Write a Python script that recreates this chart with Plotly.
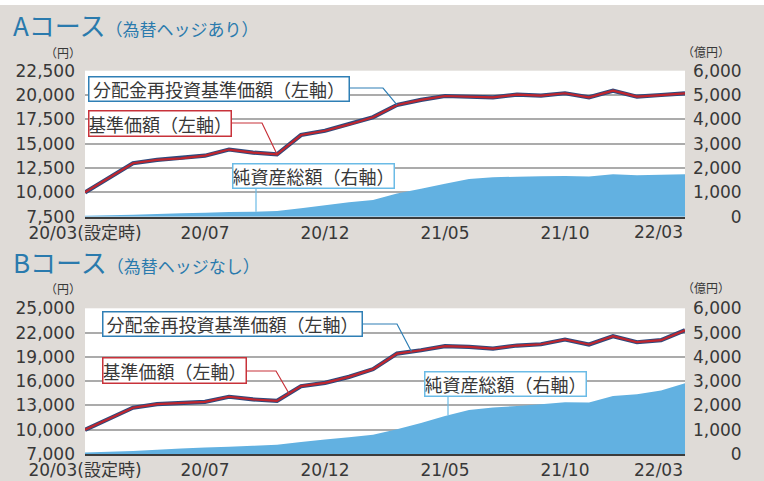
import numpy as np
import plotly.graph_objects as go

W, H = 764, 481

# ---------------- data ----------------
periods = ["20/03設定", "20/03", "20/04", "20/05", "20/06", "20/07", "20/08", "20/09",
           "20/10", "20/11", "20/12", "21/01", "21/02", "21/03", "21/04", "21/05",
           "21/06", "21/07", "21/08", "21/09", "21/10", "21/11", "21/12", "22/01",
           "22/02", "22/03"]
x_idx = list(range(len(periods)))

x_tick_pos = [0, 5, 10, 15, 20]
x_tick_labels = ["20/03(設定時)", "20/07", "20/12", "21/05", "21/10"]
x_last_label = "22/03"

# A course (hedged)
nav_a = [10000, 11450, 12990, 13330, 13500, 13770, 14400, 14080, 13910, 15890, 16330,
         16980, 17720, 18980, 19500, 19900, 19830, 19760, 20040, 19930, 20180, 19760,
         20450, 19830, 20000, 20180]
reinv_a = [10000, 11450, 12990, 13330, 13500, 13770, 14400, 14080, 13910, 15890, 16330,
           16980, 17720, 18980, 19500, 19900, 19830, 19760, 20040, 19930, 20180, 19760,
           20450, 19830, 20000, 20180]
aum_a = [40, 60, 85, 110, 140, 165, 190, 205, 230, 350, 470, 590, 690, 950, 1150, 1350,
         1550, 1620, 1645, 1660, 1675, 1655, 1740, 1700, 1725, 1740]
left_ticks_a = [7500, 10000, 12500, 15000, 17500, 20000, 22500]

# B course (unhedged)
nav_b = [10000, 11400, 12720, 13160, 13330, 13450, 14070, 13740, 13570, 15380, 15790,
         16530, 17480, 19410, 19820, 20320, 20230, 20030, 20400, 20560, 21140, 20530,
         21550, 20810, 21060, 22290]
reinv_b = [10000, 11400, 12720, 13160, 13330, 13450, 14070, 13740, 13570, 15380, 15790,
           16530, 17480, 19410, 19820, 20320, 20230, 20030, 20400, 20560, 21140, 20530,
           21550, 20810, 21060, 22290]
aum_b = [65, 90, 120, 170, 225, 265, 300, 335, 380, 490, 600, 690, 790, 1017, 1280, 1560,
         1815, 1920, 1975, 2045, 2130, 2120, 2390, 2460, 2610, 2910]
left_ticks_b = [7000, 10000, 13000, 16000, 19000, 22000, 25000]

right_ticks = [0, 1000, 2000, 3000, 4000, 5000, 6000]
right_tick_text = ["\u2007\u2008\u2007\u20070", "1,000", "2,000", "3,000", "4,000", "5,000", "6,000"]

# ---------------- styling ----------------
BG = "#dfdbd7"
GRID = "#ababab"
AXIS = "#3c3c3c"
TXT = "#383838"
TITLE = "#2a7aad"
NAVY = "#2c4a7e"
RED = "#c0262e"
AREA = "#62b1e1"
BOX_BLUE = "#2f7fb5"
BOX_RED = "#c8323a"
BOX_LIGHT = "#6bbbe6"
NUMFONT = "DejaVu Sans, Noto Sans CJK JP"
JPFONT = "Noto Sans CJK JP"

PX_L, PX_R = 85, 685
A_TOP, A_BOT = 70.7, 216.7
B_TOP, B_BOT = 308.3, 454.0


def pxx(p):
    return p / W


def pxy(p):
    return 1 - p / H


xdom = [pxx(PX_L), pxx(PX_R)]
xmax = len(periods) - 1

fig = go.Figure()

# area (base axes) then lines (overlay axes -> on top)
fig.add_trace(go.Scatter(x=x_idx, y=aum_a, mode="none", fill="tozeroy", fillcolor=AREA,
                         xaxis="x", yaxis="y", hoverinfo="skip"))
fig.add_trace(go.Scatter(x=x_idx, y=reinv_a, mode="lines", line=dict(color=NAVY, width=4.2),
                         xaxis="x", yaxis="y2"))
fig.add_trace(go.Scatter(x=x_idx, y=nav_a, mode="lines", line=dict(color=RED, width=2.2),
                         xaxis="x", yaxis="y2"))

fig.add_trace(go.Scatter(x=x_idx, y=aum_b, mode="none", fill="tozeroy", fillcolor=AREA,
                         xaxis="x2", yaxis="y3", hoverinfo="skip"))
fig.add_trace(go.Scatter(x=x_idx, y=reinv_b, mode="lines", line=dict(color=NAVY, width=4.2),
                         xaxis="x2", yaxis="y4"))
fig.add_trace(go.Scatter(x=x_idx, y=nav_b, mode="lines", line=dict(color=RED, width=2.2),
                         xaxis="x2", yaxis="y4"))

xaxis_common = dict(domain=xdom, range=[0, xmax], tickmode="array", tickvals=x_tick_pos,
                    ticktext=x_tick_labels, showgrid=False, zeroline=False, showline=True,
                    linecolor=AXIS, linewidth=2, ticks="", ticklabelstandoff=0,
                    automargin=False,
                    tickfont=dict(family=NUMFONT, size=17, color=TXT), fixedrange=True)
right_common = dict(range=[0, 6000], side="right", tickmode="array", tickvals=right_ticks,
                    ticktext=right_tick_text, showgrid=True, gridcolor=GRID, gridwidth=1.5,
                    zeroline=False, showline=False, ticks="", ticklabelstandoff=7,
                    automargin=False,
                    tickfont=dict(family=NUMFONT, size=17, color=TXT))
left_common = dict(side="left", tickmode="array", tickformat=",d", showgrid=False,
                   zeroline=False, showline=False, ticks="", ticklabelstandoff=9,
                   automargin=False,
                   tickfont=dict(family=NUMFONT, size=17, color=TXT))

fig.update_layout(
    width=W, height=H, margin=dict(l=0, r=0, t=0, b=0, pad=0, autoexpand=False),
    paper_bgcolor=BG, plot_bgcolor="white", showlegend=False,
    font=dict(family=JPFONT, color=TXT),
    xaxis=dict(anchor="y", **xaxis_common),
    yaxis=dict(domain=[pxy(A_BOT), pxy(A_TOP)], anchor="x", **right_common),
    yaxis2=dict(overlaying="y", anchor="x", range=[left_ticks_a[0], left_ticks_a[-1]],
                tickvals=left_ticks_a, **left_common),
    xaxis2=dict(anchor="y3", **xaxis_common),
    yaxis3=dict(domain=[pxy(B_BOT), pxy(B_TOP)], anchor="x2", **right_common),
    yaxis4=dict(overlaying="y3", anchor="x2", range=[left_ticks_b[0], left_ticks_b[-1]],
                tickvals=left_ticks_b, **left_common),
)

annotations = []

# last x label right aligned at the plot edge
for xr, ybot in (("x", A_BOT), ("x2", B_BOT)):
    annotations.append(dict(x=xmax, xref=xr, y=pxy(ybot + 15.5), yref="paper",
                            text=x_last_label, showarrow=False, xanchor="right",
                            yanchor="middle", font=dict(family=NUMFONT, size=17, color=TXT)))

# titles
annotations.append(dict(x=pxx(11), y=pxy(24), xref="paper", yref="paper", xanchor="left",
                        yanchor="middle", showarrow=False,
                        text="Aコース<span style='font-size:17px'>（為替ヘッジあり）</span>",
                        font=dict(family=JPFONT, size=26, color=TITLE)))
annotations.append(dict(x=pxx(11), y=pxy(261), xref="paper", yref="paper", xanchor="left",
                        yanchor="middle", showarrow=False,
                        text="Bコース<span style='font-size:17px'>（為替ヘッジなし）</span>",
                        font=dict(family=JPFONT, size=26, color=TITLE)))

# unit labels
for yc in (52, 288):
    annotations.append(dict(x=pxx(63), y=pxy(yc), xref="paper", yref="paper", text="（円）",
                            showarrow=False, xanchor="center", yanchor="middle",
                            font=dict(family=JPFONT, size=12, color=TXT)))
    annotations.append(dict(x=pxx(706), y=pxy(yc - 1), xref="paper", yref="paper",
                            text="（億円）", showarrow=False, xanchor="center",
                            yanchor="middle", font=dict(family=JPFONT, size=12, color=TXT)))


def box(text, left, top, right, bottom, color):
    bw = 1.5
    return dict(x=pxx(left), y=pxy((top + bottom) / 2), xref="paper", yref="paper",
                xanchor="left", yanchor="middle", showarrow=False, text=text,
                width=right - left - 2 * bw, height=bottom - top - 2 * bw, align="center",
                valign="middle", bgcolor="white", bordercolor=color, borderwidth=bw,
                borderpad=0, font=dict(family=JPFONT, size=18, color=TXT))


LBL_REINV = "分配金再投資基準価額（左軸）"
LBL_NAV = "基準価額（左軸）"
LBL_AUM = "純資産総額（右軸）"

annotations += [
    box(LBL_REINV, 88, 76, 350, 102, BOX_BLUE),
    box(LBL_NAV, 88, 110, 232, 137, BOX_RED),
    box(LBL_AUM, 232, 163, 395, 189, BOX_LIGHT),
    box(LBL_REINV, 102, 311, 363, 337, BOX_BLUE),
    box(LBL_NAV, 102, 357, 247, 384, BOX_RED),
    box(LBL_AUM, 424, 371, 587, 397, BOX_LIGHT),
]
fig.update_layout(annotations=annotations)


# leader lines (data coordinates)
def dx(px):
    return (px - PX_L) / (PX_R - PX_L) * xmax


def dy(py, top, bot, lo, hi):
    return lo + (bot - py) / (bot - top) * (hi - lo)


def path(pts):
    return "M " + " L ".join(f"{a},{b}" for a, b in pts)


shapes = [dict(type="rect", xref="paper", yref="paper", x0=0, x1=1, y0=pxy(5), y1=1,
               fillcolor="white", line=dict(width=0), layer="above")]

la = (A_TOP, A_BOT, left_ticks_a[0], left_ticks_a[-1])
lb = (B_TOP, B_BOT, left_ticks_b[0], left_ticks_b[-1])
ra = (A_TOP, A_BOT, 0, 6000)
rb = (B_TOP, B_BOT, 0, 6000)

# A: reinvested
shapes.append(dict(type="path", xref="x", yref="y2", line=dict(color=BOX_BLUE, width=1.2),
                   path=path([(dx(350), dy(88, *la)), (dx(383), dy(88, *la)),
                              (13, reinv_a[13])])))
# A: nav
shapes.append(dict(type="path", xref="x", yref="y2", line=dict(color=BOX_RED, width=1.2),
                   path=path([(dx(232), dy(123, *la)), (dx(262), dy(123, *la)),
                              (8, nav_a[8])])))
# A: aum
xa3 = dx(256)
shapes.append(dict(type="path", xref="x", yref="y", line=dict(color=BOX_LIGHT, width=1.2),
                   path=path([(xa3, dy(189, *ra)), (xa3, float(np.interp(xa3, x_idx, aum_a)))])))
# B: reinvested
xb1 = 13.6
shapes.append(dict(type="path", xref="x2", yref="y4", line=dict(color=BOX_BLUE, width=1.2),
                   path=path([(dx(363), dy(324, *lb)), (dx(397), dy(324, *lb)),
                              (xb1, float(np.interp(xb1, x_idx, reinv_b)))])))
# B: nav
xb2 = 8.5
shapes.append(dict(type="path", xref="x2", yref="y4", line=dict(color=BOX_RED, width=1.2),
                   path=path([(dx(247), dy(371, *lb)), (dx(276), dy(371, *lb)),
                              (xb2, float(np.interp(xb2, x_idx, nav_b)))])))
# B: aum
xb3 = dx(448)
shapes.append(dict(type="path", xref="x2", yref="y3", line=dict(color=BOX_LIGHT, width=1.2),
                   path=path([(xb3, dy(397, *rb)), (xb3, float(np.interp(xb3, x_idx, aum_b)))])))

fig.update_layout(shapes=shapes)

fig.write_html("out.html", config={"displayModeBar": False},
               post_script="document.body.style.margin='0';document.body.style.padding='0';")
